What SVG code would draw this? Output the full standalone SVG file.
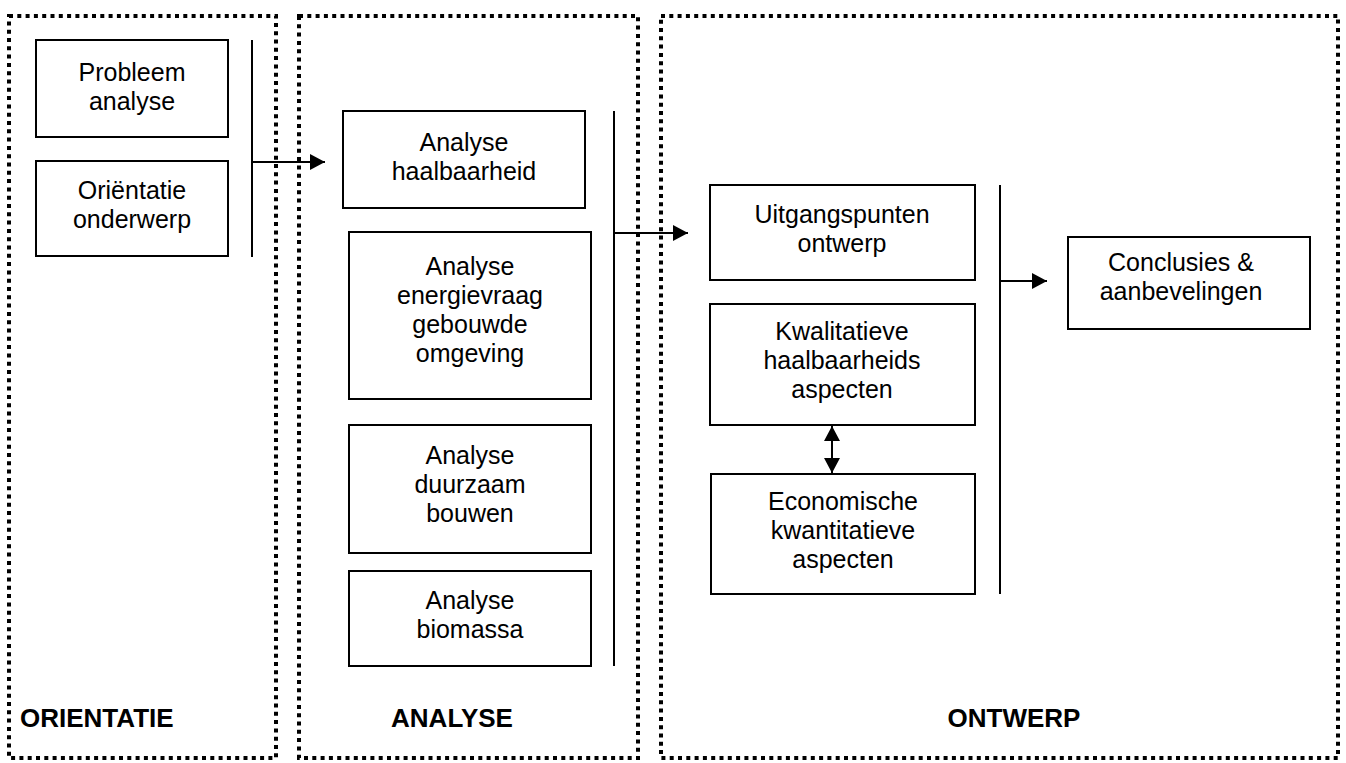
<svg xmlns="http://www.w3.org/2000/svg" width="1346" height="763" viewBox="0 0 1346 763">
  <style>
    .panel { fill: none; stroke: #000; stroke-width: 4; stroke-dasharray: 4 4.3; }
    .box { fill: #fff; stroke: #000; stroke-width: 2; }
    .bar { stroke: #000; stroke-width: 2; fill: none; }
    .conn { stroke: #000; stroke-width: 2; fill: none; }
    .t { font-family: "Liberation Sans", Arial, sans-serif; font-size: 25px; fill: #000; text-anchor: middle; }
    .h { font-family: "Liberation Sans", Arial, sans-serif; font-size: 26px; font-weight: bold; fill: #000; }
  </style>
  <defs>
    <marker id="arrow" viewBox="0 0 15 16" refX="15" refY="8" markerWidth="15" markerHeight="16" markerUnits="userSpaceOnUse" orient="auto-start-reverse">
      <path d="M0,0 L15,8 L0,16 Z" fill="#000"/>
    </marker>
  </defs>
  <rect width="1346" height="763" fill="#fff"/>

  <!-- phase panels -->
  <g id="panel-orientatie">
    <rect class="panel" x="9" y="16" width="267" height="742"/>
    <text class="h" x="20" y="727">ORIENTATIE</text>
  </g>
  <g id="panel-analyse">
    <rect class="panel" x="299" y="16" width="339" height="742"/>
    <text class="h" x="452" y="727" text-anchor="middle">ANALYSE</text>
  </g>
  <g id="panel-ontwerp">
    <rect class="panel" x="661" y="16" width="677" height="742"/>
    <text class="h" x="1014" y="727" text-anchor="middle">ONTWERP</text>
  </g>

  <!-- ORIENTATIE nodes -->
  <g id="probleem-analyse">
    <rect class="box" x="36" y="40" width="192" height="97"/>
    <text class="t" x="132" y="81">Probleem</text>
    <text class="t" x="132" y="110">analyse</text>
  </g>
  <g id="orientatie-onderwerp">
    <rect class="box" x="36" y="161" width="192" height="95"/>
    <text class="t" x="132" y="199">Oriëntatie</text>
    <text class="t" x="132" y="228">onderwerp</text>
  </g>

  <!-- ANALYSE nodes -->
  <g id="analyse-haalbaarheid">
    <rect class="box" x="343" y="111" width="242" height="97"/>
    <text class="t" x="464" y="151">Analyse</text>
    <text class="t" x="464" y="180">haalbaarheid</text>
  </g>
  <g id="analyse-energievraag">
    <rect class="box" x="349" y="232" width="242" height="167"/>
    <text class="t" x="470" y="275">Analyse</text>
    <text class="t" x="470" y="304">energievraag</text>
    <text class="t" x="470" y="333">gebouwde</text>
    <text class="t" x="470" y="362">omgeving</text>
  </g>
  <g id="analyse-duurzaam">
    <rect class="box" x="349" y="425" width="242" height="128"/>
    <text class="t" x="470" y="464">Analyse</text>
    <text class="t" x="470" y="493">duurzaam</text>
    <text class="t" x="470" y="522">bouwen</text>
  </g>
  <g id="analyse-biomassa">
    <rect class="box" x="349" y="571" width="242" height="95"/>
    <text class="t" x="470" y="609">Analyse</text>
    <text class="t" x="470" y="638">biomassa</text>
  </g>

  <!-- ONTWERP nodes -->
  <g id="uitgangspunten-ontwerp">
    <rect class="box" x="710" y="185" width="265" height="95"/>
    <text class="t" x="842" y="223">Uitgangspunten</text>
    <text class="t" x="842" y="252">ontwerp</text>
  </g>
  <g id="kwalitatieve-aspecten">
    <rect class="box" x="710" y="304" width="265" height="121"/>
    <text class="t" x="842" y="340">Kwalitatieve</text>
    <text class="t" x="842" y="369">haalbaarheids</text>
    <text class="t" x="842" y="398">aspecten</text>
  </g>
  <g id="economische-aspecten">
    <rect class="box" x="711" y="474" width="264" height="120"/>
    <text class="t" x="843" y="510">Economische</text>
    <text class="t" x="843" y="539">kwantitatieve</text>
    <text class="t" x="843" y="568">aspecten</text>
  </g>
  <g id="conclusies">
    <rect class="box" x="1068" y="237" width="242" height="92"/>
    <text class="t" x="1181" y="271">Conclusies &amp;</text>
    <text class="t" x="1181" y="300">aanbevelingen</text>
  </g>

  <!-- connectors: grouping bars and arrows -->
  <g id="connectors">
    <line class="bar" x1="252" y1="40" x2="252" y2="257"/>
    <line class="conn" x1="252" y1="162" x2="325" y2="162" marker-end="url(#arrow)"/>
    <line class="bar" x1="614" y1="111" x2="614" y2="666"/>
    <line class="conn" x1="614" y1="233" x2="688" y2="233" marker-end="url(#arrow)"/>
    <line class="bar" x1="1000" y1="185" x2="1000" y2="594"/>
    <line class="conn" x1="1000" y1="281" x2="1047" y2="281" marker-end="url(#arrow)"/>
    <line class="conn" x1="832" y1="426" x2="832" y2="473" marker-start="url(#arrow)" marker-end="url(#arrow)"/>
  </g>
</svg>
